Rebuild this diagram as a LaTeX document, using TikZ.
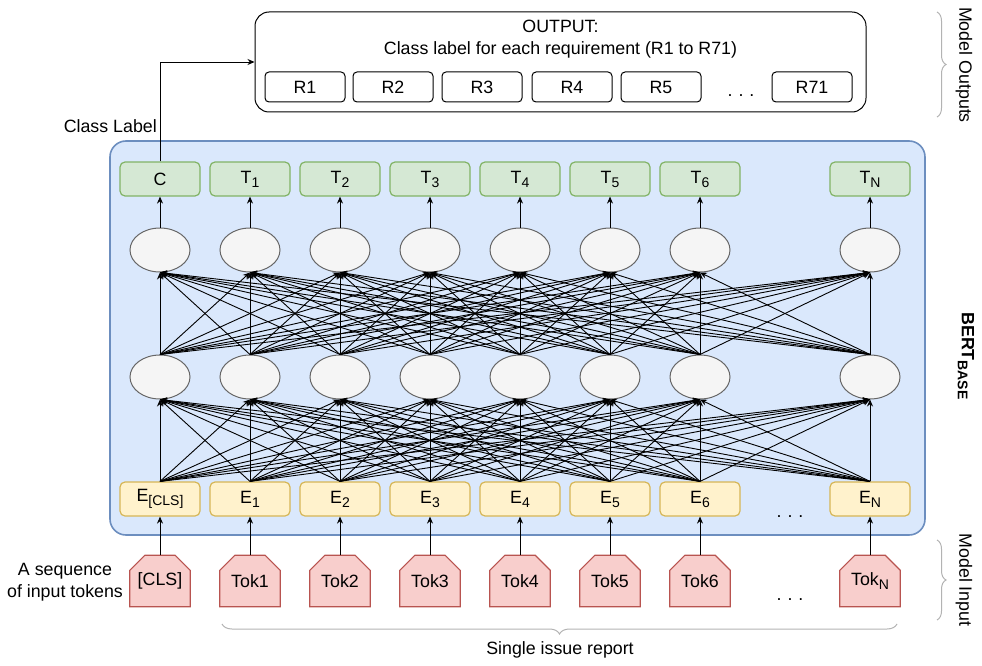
\documentclass[tikz,border=0pt]{standalone}
\usepackage{fontspec}
\setmainfont{Liberation Sans}
\usetikzlibrary{shapes.geometric,arrows.meta,decorations.pathreplacing,calc,backgrounds}
\definecolor{bluefill}{HTML}{DAE8FC}
\definecolor{bluestroke}{HTML}{6C8EBF}
\definecolor{greenfill}{HTML}{D5E8D4}
\definecolor{greenstroke}{HTML}{82B366}
\definecolor{yellowfill}{HTML}{FFF2CC}
\definecolor{yellowstroke}{HTML}{D6B656}
\definecolor{ellfill}{HTML}{F5F5F5}
\definecolor{ellstroke}{HTML}{666666}
\definecolor{redfill}{HTML}{F8CECC}
\definecolor{redstroke}{HTML}{B85450}
\definecolor{bracegrey}{HTML}{B3B3B3}
\newcommand{\mysub}[1]{\raisebox{-4pt}{\fontsize{14}{14}\selectfont #1}}
\newcommand{\wdots}{.\hspace{6pt}.\hspace{6pt}.}
\begin{document}
\begin{tikzpicture}[x=1pt,y=-1pt,
  font=\fontsize{17.8}{22}\selectfont,
  gbox/.style={draw=greenstroke,fill=greenfill,rounded corners=5pt,line width=1.2pt,minimum width=80pt,minimum height=34pt,inner sep=0pt},
  ybox/.style={draw=yellowstroke,fill=yellowfill,rounded corners=5pt,line width=1.2pt,minimum width=80pt,minimum height=34pt,inner sep=0pt},
  ell/.style={ellipse,draw=ellstroke,fill=ellfill,line width=1pt,minimum width=60pt,minimum height=44pt,inner sep=0pt},
  tok/.style={minimum width=60pt,minimum height=51pt,inner sep=0pt},
  tokdraw/.style={draw=redstroke,fill=redfill,line width=1.2pt},
  rbox/.style={draw,rounded corners=4pt,line width=1pt,minimum width=80pt,minimum height=30pt,inner sep=0pt},
  arr/.style={-{Stealth[length=7pt,width=6pt]},line width=0.9pt},
  bracestyle/.style={draw=bracegrey,line width=1pt,decorate},
  dotsnode/.style={inner sep=0pt}
]
\useasboundingbox (0,0) rectangle (982,666);
% BERT container
\draw[draw=bluestroke,fill=bluefill,line width=1.6pt,rounded corners=16pt] (110,141) rectangle (925,535);
% columns
\foreach \i/\x/\t/\e/\k in {
  0/160/{C}/{E\mysub{[CLS]}}/{[CLS]},
  1/250/{T\mysub{1}}/{E\mysub{1}}/{Tok1},
  2/340/{T\mysub{2}}/{E\mysub{2}}/{Tok2},
  3/430/{T\mysub{3}}/{E\mysub{3}}/{Tok3},
  4/520/{T\mysub{4}}/{E\mysub{4}}/{Tok4},
  5/610/{T\mysub{5}}/{E\mysub{5}}/{Tok5},
  6/700/{T\mysub{6}}/{E\mysub{6}}/{Tok6},
  7/870/{T\mysub{N}}/{E\mysub{N}}/{Tok\mysub{N}}}{
  \node[gbox] (t\i) at (\x,179) {\t};
  \node[ell] (a\i) at (\x,250) {};
  \node[ell] (b\i) at (\x,377) {};
  \node[ybox] (e\i) at (\x,499) {\e};
  \node[tok] (k\i) at (\x,581) {\k};
}
\begin{scope}[on background layer]
\foreach \i in {0,...,7}{
  \draw[tokdraw] (k\i.south west) -- ($(k\i.north west)+(0,15)$) -- ($(k\i.north west)+(15,0)$)
    -- ($(k\i.north east)+(-15,0)$) -- ($(k\i.north east)+(0,15)$) -- (k\i.south east) -- cycle;
}
\end{scope}
% dense connections
\foreach \i in {0,...,7}{
  \foreach \j in {0,...,7}{
    \draw[arr] (e\i.north) -- (b\j.south);
    \draw[arr] (b\i.north) -- (a\j.south);
  }
  \draw[arr] (a\i.north) -- (t\i.south);
  \draw[arr] (k\i.north) -- (e\i.south);
}
% dots
\node[dotsnode] (dotsE) at (790,517) {\wdots};
\node[dotsnode] (dotsK) at (790,600) {\wdots};
% output box
\node[draw,rounded corners=14pt,line width=1pt,minimum width=611pt,minimum height=100pt] (out) at (560.5,62) {};
\node[align=center,inner sep=0pt] (outtext) at (560.5,39) {OUTPUT:\\Class label for each requirement (R1 to R71)};
\node[rbox] (r1) at (305,87) {R1};
\node[rbox] (r2) at (393,87) {R2};
\node[rbox] (r3) at (482,87) {R3};
\node[rbox] (r4) at (572,87) {R4};
\node[rbox] (r5) at (661,87) {R5};
\node[dotsnode] (dotsR) at (741,96) {\wdots};
\node[rbox] (r71) at (812,87) {R71};
% class label arrow
\draw[arr] (t0.north) |- (out.west);
\node[anchor=east,inner sep=0pt] (cl) at (157,126) {Class Label};
% left label
\node[align=center,inner sep=0pt] (seq) at (65,582) {A sequence\\of input tokens};
% braces
\draw[bracestyle,decoration={brace,amplitude=9pt}] (937,12) -- (937,117);
\node[rotate=-90,inner sep=0pt] (mo) at (964,65) {Model Outputs};
\draw[bracestyle,decoration={brace,amplitude=9pt}] (937,540) -- (937,620);
\node[rotate=-90,inner sep=0pt] (mi) at (964,580) {Model Input};
\node[rotate=-90,inner sep=0pt] (bb) at (966,356) {\bfseries BERT\raisebox{-4pt}{\fontsize{14}{14}\selectfont\bfseries BASE}};
\draw[bracestyle,decoration={brace,mirror,amplitude=10pt}] (222,624) -- (897,624);
\node[inner sep=0pt] (sir) at (560,650) {Single issue report};
\end{tikzpicture}
\end{document}
